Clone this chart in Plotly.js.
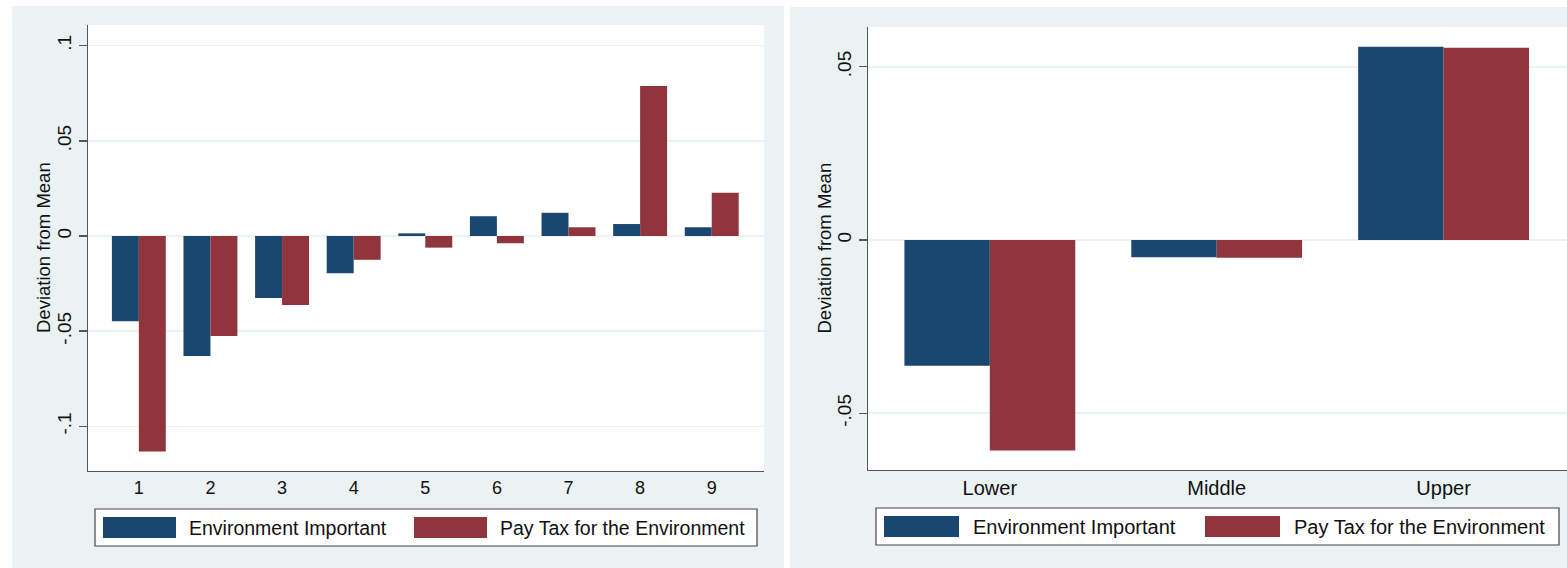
<!DOCTYPE html>
<html>
<head>
<meta charset="utf-8">
<script src="https://cdn.plot.ly/plotly-3.0.1.min.js"></script>
<style>
  html, body { margin: 0; padding: 0; background: #ffffff; }
  #chart { width: 1567px; height: 568px; }
</style>
</head>
<body>
<div id="chart"></div>
<script>
// Deviation from the mean, by income level (1-9) and by income group
const incomeLevels = [1, 2, 3, 4, 5, 6, 7, 8, 9];
const envImportantByLevel = [-0.0448, -0.0631, -0.0326, -0.0196, 0.0014, 0.0104, 0.0122, 0.0063, 0.0046];
const payTaxByLevel       = [-0.1133, -0.0525, -0.0363, -0.0125, -0.0061, -0.0038, 0.0046, 0.0788, 0.0228];

const incomeGroups = ['Lower', 'Middle', 'Upper'];
const envImportantByGroup = [-0.0363, -0.0050, 0.0558];
const payTaxByGroup       = [-0.0608, -0.0051, 0.0555];

const seriesNames  = ['Environment Important', 'Pay Tax for the Environment'];
const seriesColors = ['#1a476f', '#90353b'];

const levelTickVals = [-0.1, -0.05, 0, 0.05, 0.1];
const levelTickText = ['-.1', '-.05', '0', '.05', '.1'];
const groupTickVals = [-0.05, 0, 0.05];
const groupTickText = ['-.05', '0', '.05'];

const yTitle = 'Deviation from Mean';

// ---- page geometry (pixels) ----
const W = 1567, H = 568;
const fx = v => v / W;
const fy = v => 1 - v / H;

const FONT = 'Liberation Sans, Arial, Helvetica, sans-serif';
const INK = '#111111';
const AXIS = '#555555';
const BAND = '#eaf2f3';

const panels = [
  { bg: [12, 6, 784, 568],   plot: [88, 25, 764, 471],    legend: [95, 509, 757, 546],
    sw1: [103, 176], tx1: 187, sw2: [414, 487], tx2: 498, titleX: 44, legendFont: 19.5 },
  { bg: [790, 7, 1567, 568], plot: [868, 27, 1567, 470],  legend: [876, 508, 1559, 545],
    sw1: [884, 959], tx1: 971, sw2: [1205, 1280], tx2: 1292, titleX: 824, legendFont: 20 }
];

const traces = [
  { type: 'bar', name: seriesNames[0], x: incomeLevels, y: envImportantByLevel,
    marker: { color: seriesColors[0], line: { width: 0 } }, xaxis: 'x', yaxis: 'y', showlegend: false },
  { type: 'bar', name: seriesNames[1], x: incomeLevels, y: payTaxByLevel,
    marker: { color: seriesColors[1], line: { width: 0 } }, xaxis: 'x', yaxis: 'y', showlegend: false },
  { type: 'bar', name: seriesNames[0], x: incomeGroups, y: envImportantByGroup,
    marker: { color: seriesColors[0], line: { width: 0 } }, xaxis: 'x2', yaxis: 'y2', showlegend: false },
  { type: 'bar', name: seriesNames[1], x: incomeGroups, y: payTaxByGroup,
    marker: { color: seriesColors[1], line: { width: 0 } }, xaxis: 'x2', yaxis: 'y2', showlegend: false }
];

function yAxis(p, range, vals, text, anchor) {
  return {
    domain: [fy(p.plot[3]), fy(p.plot[1])], anchor: anchor, range: range,
    tickmode: 'array', tickvals: vals, ticktext: text, tickangle: -90,
    ticks: 'outside', ticklen: 8, tickwidth: 1.3, tickcolor: AXIS,
    tickfont: { family: FONT, size: 19, color: INK },
    showgrid: true, gridcolor: BAND, gridwidth: 1.5, zeroline: false,
    showline: true, linecolor: AXIS, linewidth: 1.3, fixedrange: true
  };
}

const shapes = [];
const annotations = [];
panels.forEach(p => {
  shapes.push({ type: 'rect', xref: 'paper', yref: 'paper', layer: 'below',
    x0: fx(p.bg[0]), x1: fx(p.bg[2]), y0: fy(p.bg[3]), y1: fy(p.bg[1]),
    fillcolor: BAND, line: { width: 0 } });
  shapes.push({ type: 'rect', xref: 'paper', yref: 'paper', layer: 'below',
    x0: fx(p.plot[0]), x1: fx(p.plot[2]), y0: fy(p.plot[3]), y1: fy(p.plot[1]),
    fillcolor: '#ffffff', line: { width: 0 } });
  // legend frame and swatches
  shapes.push({ type: 'rect', xref: 'paper', yref: 'paper',
    x0: fx(p.legend[0]), x1: fx(p.legend[2]), y0: fy(p.legend[3]), y1: fy(p.legend[1]),
    fillcolor: '#ffffff', line: { color: '#444444', width: 1.2 } });
  const sy0 = p.legend[1] + 8, sy1 = p.legend[3] - 8;
  shapes.push({ type: 'rect', xref: 'paper', yref: 'paper',
    x0: fx(p.sw1[0]), x1: fx(p.sw1[1]), y0: fy(sy1), y1: fy(sy0),
    fillcolor: seriesColors[0], line: { width: 0 } });
  shapes.push({ type: 'rect', xref: 'paper', yref: 'paper',
    x0: fx(p.sw2[0]), x1: fx(p.sw2[1]), y0: fy(sy1), y1: fy(sy0),
    fillcolor: seriesColors[1], line: { width: 0 } });
  const my = (p.legend[1] + p.legend[3]) / 2;
  [[p.tx1, seriesNames[0]], [p.tx2, seriesNames[1]]].forEach(([tx, label]) => {
    annotations.push({ xref: 'paper', yref: 'paper', x: fx(tx), y: fy(my),
      xanchor: 'left', yanchor: 'middle', showarrow: false, text: label,
      font: { family: FONT, size: p.legendFont, color: INK } });
  });
  annotations.push({ xref: 'paper', yref: 'paper', x: fx(p.titleX),
    y: fy((p.plot[1] + p.plot[3]) / 2), xanchor: 'center', yanchor: 'middle',
    textangle: -90, showarrow: false, text: yTitle,
    font: { family: FONT, size: 18.5, color: INK } });
});

const L = panels[0], R = panels[1];
const layout = {
  width: W, height: H,
  margin: { l: 0, r: 0, t: 0, b: 0, pad: 0 },
  paper_bgcolor: '#ffffff', plot_bgcolor: 'rgba(0,0,0,0)',
  barmode: 'group', bargap: 0.247, bargroupgap: 0,
  showlegend: false,
  xaxis: {
    domain: [fx(L.plot[0]), fx(L.plot[2])], anchor: 'y', type: 'linear',
    range: [0.29, 9.73], tickmode: 'array', tickvals: incomeLevels,
    ticks: '', tickfont: { family: FONT, size: 18, color: INK },
    showgrid: false, zeroline: false, showline: true, linecolor: AXIS, linewidth: 1.3,
    fixedrange: true
  },
  yaxis: yAxis(L, [-0.1235, 0.1109], levelTickVals, levelTickText, 'x'),
  xaxis2: {
    domain: [fx(R.plot[0]), fx(R.plot[2])], anchor: 'y2', type: 'category',
    range: [-0.537, 2.544],
    ticks: '', tickfont: { family: FONT, size: 20, color: INK },
    showgrid: false, zeroline: false, showline: true, linecolor: AXIS, linewidth: 1.3,
    fixedrange: true
  },
  yaxis2: yAxis(R, [-0.0664, 0.0615], groupTickVals, groupTickText, 'x2'),
  shapes: shapes,
  annotations: annotations
};

Plotly.newPlot('chart', traces, layout, { displayModeBar: false, staticPlot: true });
</script>
</body>
</html>
